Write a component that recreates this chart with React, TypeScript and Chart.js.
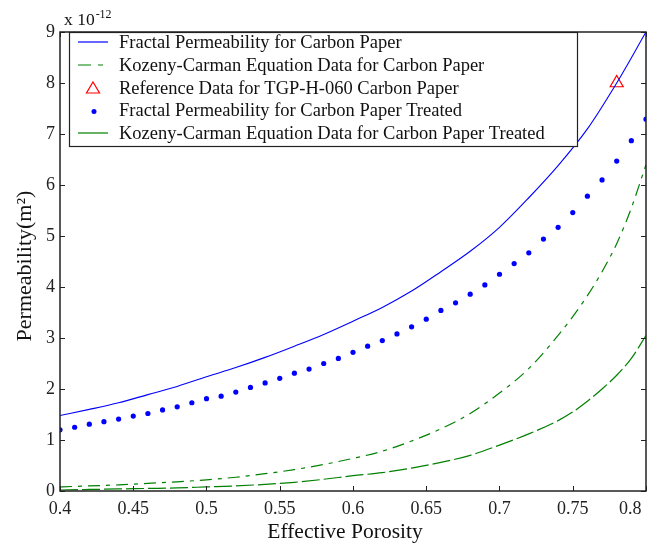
import React, { useEffect, useRef } from "react";
import { Chart, registerables } from "chart.js";

Chart.register(...registerables);

// Effective porosity sample positions
const porosityLine = [0.40, 0.42, 0.44, 0.46, 0.48, 0.50, 0.52, 0.54, 0.56, 0.58, 0.60, 0.62, 0.64, 0.66, 0.68, 0.70, 0.72, 0.74, 0.76, 0.78, 0.80];
// Fractal permeability, carbon paper (x 1e-12 m^2)
const fractalCarbon = [1.48, 1.60, 1.73, 1.89, 2.05, 2.24, 2.42, 2.62, 2.84, 3.07, 3.33, 3.60, 3.92, 4.30, 4.70, 5.17, 5.75, 6.38, 7.10, 8.00, 9.00];

const porosityKC = [0.40, 0.42, 0.44, 0.46, 0.48, 0.50, 0.52, 0.54, 0.56, 0.58, 0.60, 0.62, 0.64, 0.66, 0.68, 0.70, 0.72, 0.74, 0.75, 0.76, 0.77, 0.78, 0.79, 0.80];
// Kozeny-Carman, carbon paper
const kcCarbon = [0.08, 0.10, 0.12, 0.15, 0.18, 0.22, 0.27, 0.34, 0.42, 0.52, 0.64, 0.78, 0.98, 1.22, 1.52, 1.92, 2.40, 3.05, 3.42, 3.83, 4.30, 4.85, 5.55, 6.40];
// Kozeny-Carman, carbon paper treated
const kcTreated = [0.02, 0.03, 0.04, 0.05, 0.06, 0.08, 0.10, 0.13, 0.17, 0.23, 0.30, 0.36, 0.45, 0.56, 0.70, 0.90, 1.12, 1.38, 1.55, 1.76, 2.00, 2.27, 2.60, 3.05];

const porosityDots = [0.40, 0.41, 0.42, 0.43, 0.44, 0.45, 0.46, 0.47, 0.48, 0.49, 0.50, 0.51, 0.52, 0.53, 0.54, 0.55, 0.56, 0.57, 0.58, 0.59, 0.60, 0.61, 0.62, 0.63, 0.64, 0.65, 0.66, 0.67, 0.68, 0.69, 0.70, 0.71, 0.72, 0.73, 0.74, 0.75, 0.76, 0.77, 0.78, 0.79, 0.80];
// Fractal permeability, carbon paper treated
const fractalTreated = [1.20, 1.25, 1.31, 1.36, 1.41, 1.47, 1.52, 1.59, 1.65, 1.73, 1.81, 1.86, 1.94, 2.03, 2.12, 2.21, 2.31, 2.39, 2.50, 2.60, 2.72, 2.84, 2.95, 3.08, 3.22, 3.37, 3.54, 3.69, 3.86, 4.04, 4.25, 4.46, 4.67, 4.94, 5.17, 5.46, 5.78, 6.10, 6.47, 6.87, 7.29];

// Reference data TGP-H-060
const refPorosity = [0.78];
const refPermeability = [8.0];

const legendLabels = [
  "Fractal Permeability for Carbon Paper",
  "Kozeny-Carman Equation Data for Carbon Paper",
  "Reference Data for TGP-H-060 Carbon Paper",
  "Fractal Permeability for Carbon Paper Treated",
  "Kozeny-Carman Equation Data for Carbon Paper Treated",
];

const xTitle = "Effective Porosity";
const yTitle = "Permeability(m\u00B2)";

const SERIF = "'Liberation Serif', 'Times New Roman', serif";
const BLUE = "#0000ff";
const GREEN = "#008000";
const RED = "#ff0000";

const pts = (xs: number[], ys: number[]) => xs.map((x, i) => ({ x, y: ys[i] }));

export default function App() {
  const ref = useRef<HTMLCanvasElement | null>(null);

  useEffect(() => {
    if (!ref.current) return;

    const decor = {
      id: "decor",
      afterDraw(chart: any) {
        const ctx = chart.ctx as CanvasRenderingContext2D;
        const a = chart.chartArea;
        const xs = chart.scales.x;
        const ys = chart.scales.y;
        ctx.save();
        // ticks inward on all four sides
        ctx.strokeStyle = "#222";
        ctx.lineWidth = 1;
        const tl = 5;
        xs.ticks.forEach((t: any) => {
          const px = Math.round(xs.getPixelForValue(t.value)) + 0.5;
          ctx.beginPath();
          ctx.moveTo(px, a.bottom);
          ctx.lineTo(px, a.bottom - tl);
          ctx.moveTo(px, a.top);
          ctx.lineTo(px, a.top + tl);
          ctx.stroke();
        });
        ys.ticks.forEach((t: any) => {
          const py = Math.round(ys.getPixelForValue(t.value)) + 0.5;
          ctx.beginPath();
          ctx.moveTo(a.left, py);
          ctx.lineTo(a.left + tl, py);
          ctx.moveTo(a.right, py);
          ctx.lineTo(a.right - tl, py);
          ctx.stroke();
        });

        // legend box
        const lx = 69, ly = a.top, lw = 508, lh = 114;
        ctx.fillStyle = "#fff";
        ctx.fillRect(lx, ly, lw, lh);
        ctx.strokeStyle = "#222";
        ctx.lineWidth = 1.2;
        ctx.strokeRect(lx + 0.5, ly + 0.5, lw, lh);
        const rows = [42, 65, 88, 110.5, 133];
        ctx.font = "18.5px " + SERIF;
        ctx.textBaseline = "middle";
        ctx.textAlign = "left";
        legendLabels.forEach((lab, i) => {
          const y = rows[i];
          ctx.save();
          if (i === 0 || i === 1 || i === 4) {
            ctx.lineWidth = 1.2;
            ctx.strokeStyle = i === 0 ? BLUE : GREEN;
            ctx.setLineDash(i === 1 ? [13, 7, 5, 20] : []);
            ctx.beginPath();
            ctx.moveTo(78, y);
            ctx.lineTo(108, y);
            ctx.stroke();
          } else if (i === 2) {
            ctx.strokeStyle = RED;
            ctx.lineWidth = 1.2;
            ctx.beginPath();
            ctx.moveTo(93, y - 6);
            ctx.lineTo(99.5, y + 5);
            ctx.lineTo(86.5, y + 5);
            ctx.closePath();
            ctx.stroke();
          } else {
            ctx.fillStyle = BLUE;
            ctx.beginPath();
            ctx.arc(94, y + 1, 2.5, 0, Math.PI * 2);
            ctx.fill();
          }
          ctx.restore();
          ctx.fillStyle = "#111";
          ctx.fillText(lab, 119, y + 1);
        });

        // frame
        ctx.strokeStyle = "#222";
        ctx.lineWidth = 1.5;
        ctx.strokeRect(a.left, a.top, a.right - a.left, a.bottom - a.top);

        // axis titles
        ctx.fillStyle = "#111";
        ctx.font = "21.5px " + SERIF;
        ctx.textAlign = "center";
        ctx.textBaseline = "middle";
        ctx.fillText(xTitle, 345, 532);
        ctx.save();
        ctx.font = "22px " + SERIF;
        ctx.translate(25, 266);
        ctx.rotate(-Math.PI / 2);
        ctx.fillText(yTitle, 0, 0);
        ctx.restore();

        // exponent label
        ctx.textAlign = "left";
        ctx.textBaseline = "alphabetic";
        ctx.font = "17.5px " + SERIF;
        ctx.fillText("x 10", 64, 25);
        const w = ctx.measureText("x 10").width;
        ctx.font = "12px " + SERIF;
        ctx.fillText("-12", 64 + w + 1, 18);
        ctx.restore();
      },
    };

    const chart = new Chart(ref.current, {
      type: "line",
      data: {
        datasets: [
          {
            label: legendLabels[0],
            data: pts(porosityLine, fractalCarbon),
            borderColor: BLUE,
            borderWidth: 1.1,
            pointRadius: 0,
            cubicInterpolationMode: "monotone",
          },
          {
            label: legendLabels[1],
            data: pts(porosityKC, kcCarbon),
            borderColor: GREEN,
            borderWidth: 1.2,
            borderDash: [12, 6, 4, 6],
            pointRadius: 0,
            cubicInterpolationMode: "monotone",
          },
          {
            label: legendLabels[2],
            data: pts(refPorosity, refPermeability),
            showLine: false,
            pointStyle: "triangle",
            pointRadius: 7.5,
            borderColor: RED,
            borderWidth: 1.2,
            backgroundColor: "rgba(0,0,0,0)",
          },
          {
            label: legendLabels[3],
            data: pts(porosityDots, fractalTreated),
            showLine: false,
            pointStyle: "circle",
            pointRadius: 2.6,
            borderWidth: 0,
            backgroundColor: BLUE,
            borderColor: BLUE,
          },
          {
            label: legendLabels[4],
            data: pts(porosityKC, kcTreated),
            borderColor: GREEN,
            borderWidth: 1.2,
            borderDash: [18, 4],
            pointRadius: 0,
            cubicInterpolationMode: "monotone",
          },
        ],
      },
      options: {
        responsive: false,
        animation: false,
        layout: { padding: { top: 32, right: 12, left: 0, bottom: 0 } },
        plugins: { legend: { display: false }, tooltip: { enabled: false } },
        scales: {
          x: {
            type: "linear",
            min: 0.4,
            max: 0.8,
            grid: { display: false, drawTicks: false },
            border: { display: false },
            ticks: {
              stepSize: 0.05,
              padding: 7,
              color: "#222",
              font: { family: SERIF, size: 18 },
              maxRotation: 0,
              callback: (v: any) => {
                const s = String(parseFloat(Number(v).toFixed(2)));
                return Math.abs(Number(v) - 0.8) < 1e-9 ? s + "\u00a0\u00a0\u00a0\u00a0\u00a0\u00a0\u00a0" : s;
              },
            },
            afterFit: (s: any) => {
              s.height = 52;
              s.paddingLeft = 0;
              s.paddingRight = 0;
            },
          },
          y: {
            type: "linear",
            min: 0,
            max: 9,
            grid: { display: false, drawTicks: false },
            border: { display: false },
            ticks: {
              stepSize: 1,
              padding: 5,
              color: "#222",
              font: { family: SERIF, size: 18 },
            },
            afterFit: (s: any) => {
              s.width = 60;
              s.paddingTop = 0;
              s.paddingBottom = 0;
            },
          },
        },
      },
      plugins: [decor],
    } as any);

    return () => chart.destroy();
  }, []);

  return (
    <div style={{ position: "absolute", left: 0, top: 0, width: 658, height: 543, background: "#fff" }}>
      <canvas ref={ref} width={658} height={543} />
    </div>
  );
}
